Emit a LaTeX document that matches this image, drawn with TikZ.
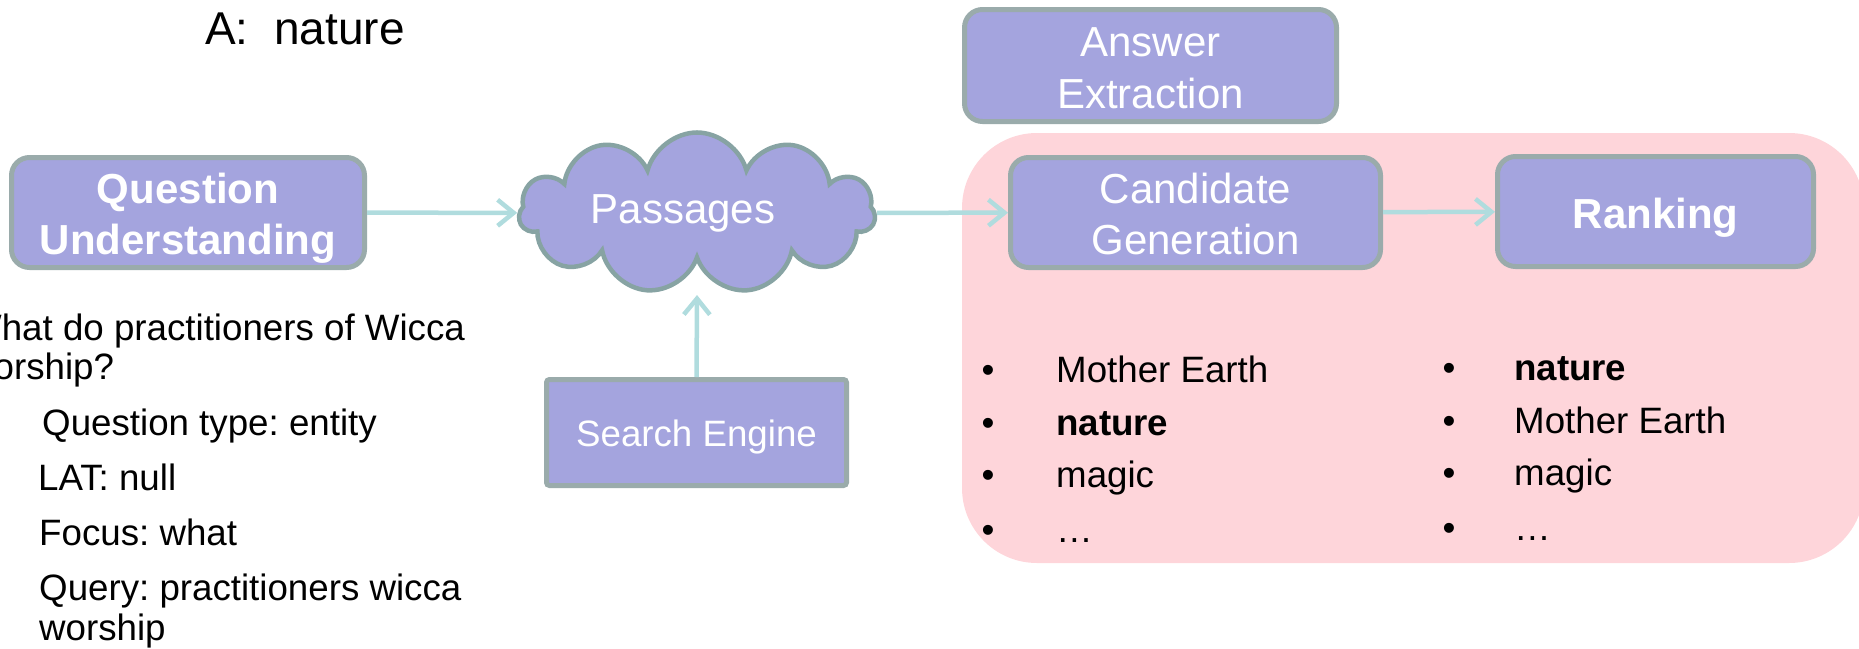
\documentclass[tikz,border=0pt]{standalone}
\usepackage{fontspec}
\setmainfont{Liberation Sans}
\usetikzlibrary{arrows.meta,shapes.symbols}
\definecolor{boxfill}{HTML}{A4A4DE}
\definecolor{boxline}{HTML}{9AABAB}
\definecolor{cloudline}{HTML}{87A3A3}
\definecolor{pinkbg}{HTML}{FED5DA}
\definecolor{arrowc}{HTML}{B0DCDE}
\newcommand\topstrut{\rule{0pt}{43pt}}
\newcommand\botstrut{\rule[-10pt]{0pt}{10pt}}
\frenchspacing
\begin{document}
\begin{tikzpicture}[x=1pt,y=-1pt,
  procbox/.style={draw=boxline, fill=boxfill, line width=5pt, rounded corners=18pt,
    text=white, align=center, inner sep=0pt, font=\fontsize{42}{51}\selectfont},
  flow/.style={draw=arrowc, line width=4.5pt, -{Straight Barb[length=16pt,width=26pt]}},
  plaintext/.style={anchor=base west, inner sep=0pt, font=\fontsize{36.7}{44}\selectfont},
  bul/.style={anchor=base, inner sep=0pt, font=\fontsize{36.7}{44}\selectfont}
]
\useasboundingbox (0,0) rectangle (1859,648);

% pink background region
\fill[pinkbg, rounded corners=75pt] (962,133) rectangle (1864,563);

% title
\node[anchor=base west, inner sep=0pt, font=\fontsize{46}{55}\selectfont] (ans) at (205,44) {A:\ \ nature};

% boxes
\node[procbox, minimum width=353pt, minimum height=110pt, font=\bfseries\fontsize{42}{51}\selectfont] (qu) at (188,212.5) {\topstrut Question\\Understanding\botstrut};
\node[procbox, minimum width=370pt, minimum height=110pt] (cg) at (1195.5,212.5) {\topstrut Candidate\\Generation\botstrut};
\node[procbox, minimum width=316pt, minimum height=110pt, font=\bfseries\fontsize{42}{51}\selectfont] (rank) at (1655.5,211.5) {\topstrut Ranking\botstrut};
\node[procbox, minimum width=372pt, minimum height=112pt, font=\fontsize{42}{52}\selectfont] (ae) at (1150.5,65.5) {\topstrut Answer\\Extraction\botstrut};
\node[procbox, rounded corners=3pt, minimum width=300pt, minimum height=106pt, font=\fontsize{36.7}{44}\selectfont] (se) at (696.5,432.5) {\rule{0pt}{38pt}Search Engine\rule[-9.5pt]{0pt}{9.5pt}};

% cloud
\node[cloud, cloud puffs=11, aspect=3, draw=cloudline, fill=boxfill, line width=4.5pt,
  minimum width=356pt, minimum height=120pt, inner sep=0pt, text=white,
  font=\fontsize{42}{50}\selectfont] (pass) at (697,213) {Passages\hspace*{28pt}};
\coordinate (passbot) at (697,295);

% connectors
\draw[flow] (qu) -- (pass);
\draw[flow] (pass) -- (cg);
\draw[flow] (cg) -- (rank);
\draw[flow] (se.north) -- (passbot);

% question text
\node[plaintext] (q1) at (-33,340) {What do practitioners of Wicca};
\node[plaintext] (q2) at (-33,379) {worship?};
\node[plaintext] (q3) at (42,435) {Question type: entity};
\node[plaintext] (q4) at (38,490) {LAT: null};
\node[plaintext] (q5) at (39,545) {Focus: what};
\node[plaintext] (q6) at (39,600) {Query: practitioners wicca};
\node[plaintext] (q7) at (39,640) {worship};

% candidate list
\node[bul] (lb1) at (988,382) {\textbullet};
\node[bul] (lb2) at (988,435) {\textbullet};
\node[bul] (lb3) at (988,487) {\textbullet};
\node[bul] (lb4) at (988,542) {\textbullet};
\node[plaintext] (lt1) at (1056,382) {Mother Earth};
\node[plaintext] (lt2) at (1056,435) {\bfseries nature};
\node[plaintext] (lt3) at (1056,487) {magic};
\node[plaintext] (lt4) at (1056,542) {…};

% ranked list
\node[bul] (rb1) at (1449,380) {\textbullet};
\node[bul] (rb2) at (1449,433) {\textbullet};
\node[bul] (rb3) at (1449,485) {\textbullet};
\node[bul] (rb4) at (1449,540) {\textbullet};
\node[plaintext] (rt1) at (1514,380) {\bfseries nature};
\node[plaintext] (rt2) at (1514,433) {Mother Earth};
\node[plaintext] (rt3) at (1514,485) {magic};
\node[plaintext] (rt4) at (1514,540) {…};
\end{tikzpicture}
\end{document}
